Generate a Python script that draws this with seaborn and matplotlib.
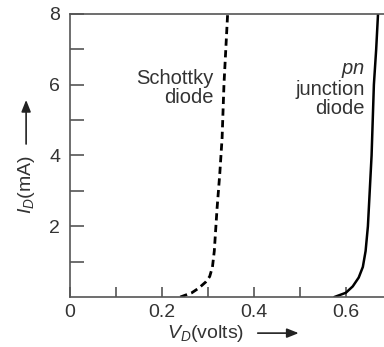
import numpy as np
import pandas as pd
import seaborn as sns
import matplotlib.pyplot as plt
from matplotlib.patches import FancyArrowPatch

sns.set_style('white')
plt.rcParams['font.family'] = ['Liberation Sans', 'DejaVu Sans']
plt.rcParams['mathtext.fontset'] = 'custom'
plt.rcParams['mathtext.it'] = 'Liberation Sans:italic'
plt.rcParams['mathtext.rm'] = 'Liberation Sans'

# Schottky diode curve (volts, mA)
schottky_v = [0.24, 0.265, 0.28, 0.295, 0.304, 0.310, 0.314, 0.320, 0.326, 0.331, 0.335, 0.339, 0.343]
schottky_i = [0.0, 0.12, 0.25, 0.42, 0.58, 0.85, 1.3, 2.5, 3.5, 4.5, 6.0, 7.0, 8.0]

# pn junction diode curve (volts, mA)
pn_v = [0.575, 0.60, 0.615, 0.628, 0.637, 0.643, 0.648, 0.652, 0.656, 0.661, 0.666, 0.670]
pn_i = [0.0, 0.12, 0.3, 0.55, 0.85, 1.3, 2.0, 3.0, 4.0, 6.0, 7.0, 8.0]

x_major = [0, 0.2, 0.4, 0.6]
x_minor = [0.1, 0.3, 0.5]
y_major = [2, 4, 6, 8]
y_minor = [1, 3, 5, 7]

df_s = pd.DataFrame({'V': schottky_v, 'I': schottky_i})
df_pn = pd.DataFrame({'V': pn_v, 'I': pn_i})

fig = plt.figure(figsize=(3.84, 3.47), dpi=100)
ax = fig.add_axes([0.182, 0.144, 0.818, 0.816])

sns.lineplot(data=df_s, x='V', y='I', sort=False, color='black', lw=2.0,
             linestyle=(0, (2.6, 1.6)), ax=ax)
sns.lineplot(data=df_pn, x='V', y='I', sort=False, color='black', lw=1.8, ax=ax)

ax.set_xlim(0, 0.683)
ax.set_ylim(0, 8)
ax.set_xlabel('')
ax.set_ylabel('')

grey = '#555555'
txt = '#333333'
for s in ['left', 'bottom', 'top']:
    ax.spines[s].set_color(grey)
    ax.spines[s].set_linewidth(1.2)
ax.spines['right'].set_visible(False)

ax.set_xticks(x_major)
ax.set_xticklabels(['0', '0.2', '0.4', '0.6'])
ax.set_xticks(x_minor, minor=True)
ax.set_yticks(y_major)
ax.set_yticklabels(['2', '4', '6', '8'])
ax.set_yticks(y_minor, minor=True)
ax.tick_params(axis='both', which='both', direction='in', color=grey,
               width=1.2, labelcolor=txt, labelsize=14)
ax.tick_params(axis='y', which='both', length=10, pad=7)
ax.tick_params(axis='x', which='both', length=7, pad=5)
ax.tick_params(bottom=True, left=True, which='both')

ax.text(0.313, 5.9, 'Schottky\ndiode', ha='right', va='center', fontsize=14.5,
        color=txt, linespacing=1.0)
ax.text(0.641, 5.85, '$pn$\njunction\ndiode', ha='right', va='center', fontsize=14.5,
        color=txt, linespacing=1.0)

# axis labels with arrows
fig.text(0.068, 0.467, '$I_D$(mA)', rotation=90, ha='center', va='center',
         fontsize=14, color=txt)
fig.text(0.535, 0.04, '$V_D$(volts)', ha='center', va='center',
         fontsize=14, color=txt)
fig.patches.append(FancyArrowPatch(
    (0.068, 0.577), (0.068, 0.72), transform=fig.transFigure,
    arrowstyle='-|>,head_length=7,head_width=2.8', color='#222222', lw=1.2))
fig.patches.append(FancyArrowPatch(
    (0.664, 0.04), (0.785, 0.04), transform=fig.transFigure,
    arrowstyle='-|>,head_length=7,head_width=2.8', color='#222222', lw=1.2))

fig.savefig('out.png', dpi=100)
